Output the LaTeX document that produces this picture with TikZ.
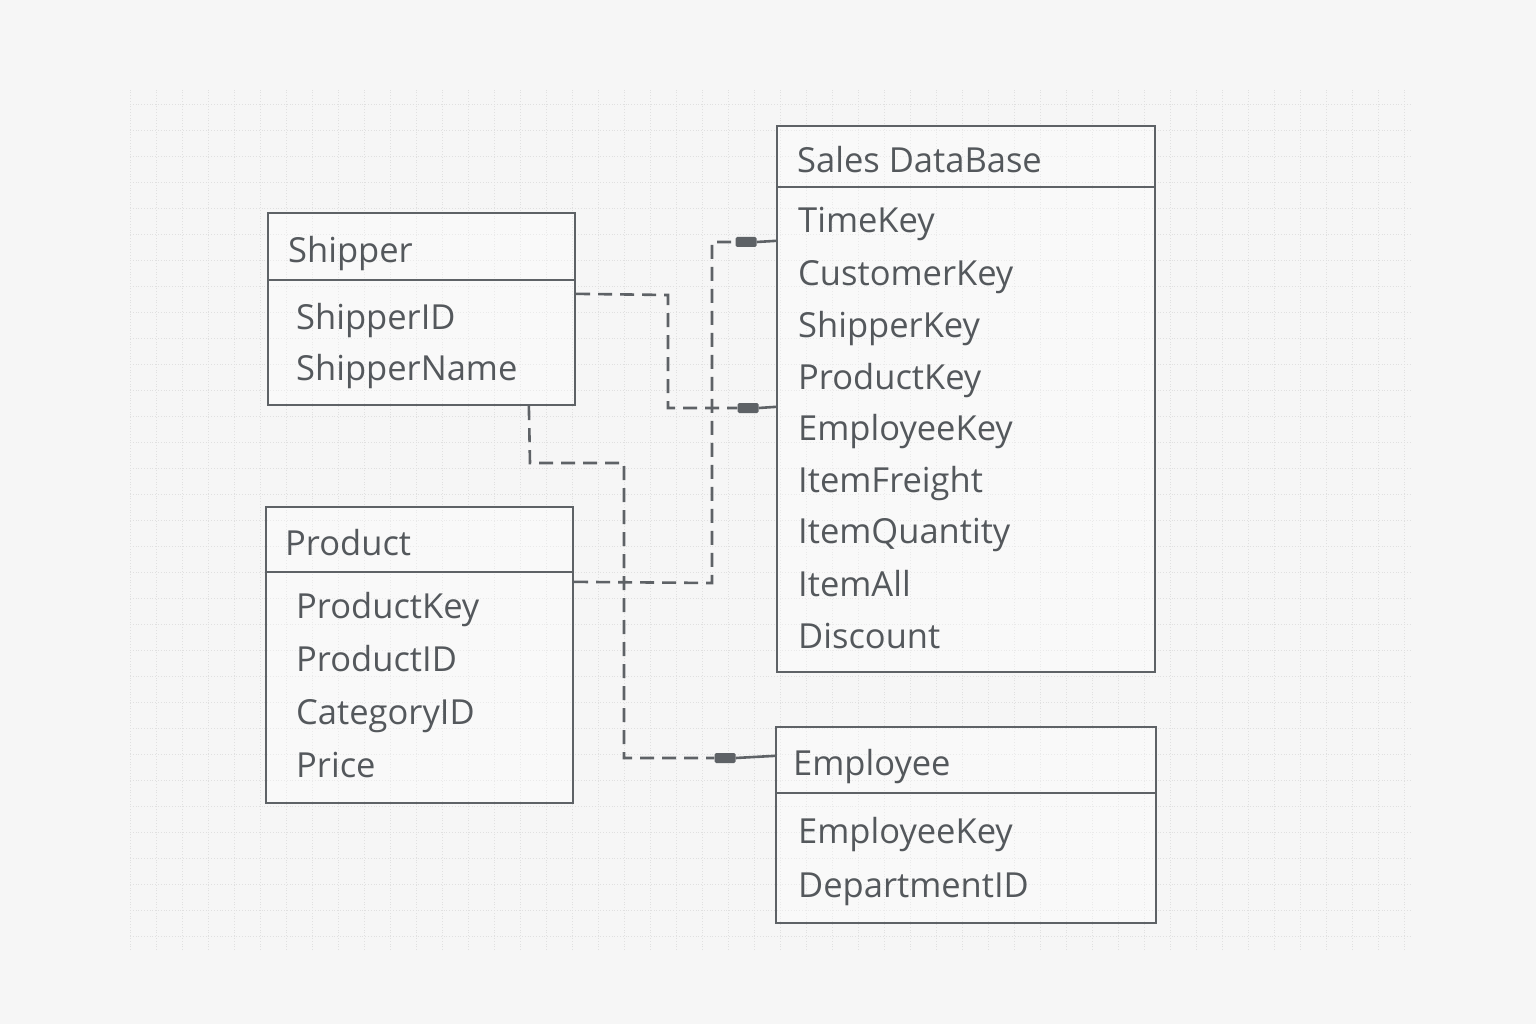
\documentclass[tikz,border=0pt]{standalone}
\usepackage{fontspec}
\setmainfont{Open Sans}
\usetikzlibrary{calc}
\definecolor{ink}{HTML}{5E6266}
\definecolor{txt}{HTML}{54585C}
\definecolor{bg}{HTML}{F6F6F6}
\definecolor{gridc}{HTML}{E0E0E0}
\tikzset{
  box/.style={draw=ink, line width=2.3pt, fill=white, fill opacity=0.35, text opacity=1, inner sep=0pt},
  divider/.style={draw=ink, line width=2.1pt},
  ttl/.style={anchor=base west, text=txt, inner sep=0pt, font=\fontsize{34.5}{40}\selectfont},
  itm/.style={anchor=base west, text=txt, inner sep=0pt, font=\fontsize{34.5}{40}\selectfont},
  conn/.style={draw=ink, line width=2.6pt, dash pattern=on 14pt off 8pt},
  solidconn/.style={draw=ink, line width=2.6pt},
  marker/.style={fill=ink, draw=none, rounded corners=1.5pt, minimum width=21pt, minimum height=10pt, inner sep=0pt},
}
\begin{document}
\begin{tikzpicture}[x=1pt,y=-1pt]
\useasboundingbox (0,0) rectangle (1536,1024);
\fill[bg] (0,0) rectangle (1536,1024);
\draw[gridc, line width=0.8pt, dotted] (130,90) grid[step=26pt] (1410,950);

% Shipper
\node[box, minimum width=307pt, minimum height=192pt] (shipper) at (421.5,309) {};
\draw[divider] (268,280) -- (575,280);
\node[ttl] (shipT) at (288,263) {Shipper};
\node[itm] (shipI1) at (296,329) {ShipperID};
\node[itm] (shipI2) at (296,380) {ShipperName};

% Product
\node[box, minimum width=307pt, minimum height=296pt] (product) at (419.5,655) {};
\draw[divider] (266,572) -- (573,572);
\node[ttl] (prodT) at (285,555) {Product};
\node[itm] (prodI1) at (296,618) {ProductKey};
\node[itm] (prodI2) at (296,671) {ProductID};
\node[itm] (prodI3) at (296,724) {CategoryID};
\node[itm] (prodI4) at (296,777) {Price};

% Sales
\node[box, minimum width=378pt, minimum height=546pt] (sales) at (966,399) {};
\draw[divider] (777,187) -- (1155,187);
\node[ttl] (salesT) at (797,173) {Sales DataBase};
\node[itm] (s1) at (798,233) {TimeKey};
\node[itm] (s2) at (798,285) {CustomerKey};
\node[itm] (s3) at (798,337) {ShipperKey};
\node[itm] (s4) at (798,389) {ProductKey};
\node[itm] (s5) at (798,440) {EmployeeKey};
\node[itm] (s6) at (798,492) {ItemFreight};
\node[itm] (s7) at (798,543) {ItemQuantity};
\node[itm] (s8) at (798,596) {ItemAll};
\node[itm] (s9) at (798,648) {Discount};

% Employee
\node[box, minimum width=380pt, minimum height=196pt] (employee) at (966,825) {};
\draw[divider] (776,793) -- (1156,793);
\node[ttl] (empT) at (793,775) {Employee};
\node[itm] (e1) at (798,843) {EmployeeKey};
\node[itm] (e2) at (798,897) {DepartmentID};

% anchor coordinates on box edges
\coordinate (shipR) at ($(shipper.north east)+(0,82)$);
\coordinate (shipB) at ($(shipper.south west)+(262,0)$);
\coordinate (prodR) at ($(product.north east)+(0,76)$);
\coordinate (salesA) at ($(sales.north west)+(0,116)$);
\coordinate (salesB) at ($(sales.north west)+(0,282)$);
\coordinate (empA) at ($(employee.north west)+(0,30)$);

% markers
\node[marker] (m1) at (746,242) {};
\node[marker] (m2) at (748,408) {};
\node[marker] (m3) at (725,758) {};

% connectors
\draw[conn] (prodR) -- (712,583) -- (712,242) -- (m1.west);
\draw[solidconn] (m1.east) -- (salesA);
\draw[conn] (shipR) -- (668,295) -- (668,408) -- (m2.west);
\draw[solidconn] (m2.east) -- (salesB);
\draw[conn] (shipB) -- (530,463) -- (624,463) -- (624,758) -- (m3.west);
\draw[solidconn] (m3.east) -- (empA);
\end{tikzpicture}
\end{document}
